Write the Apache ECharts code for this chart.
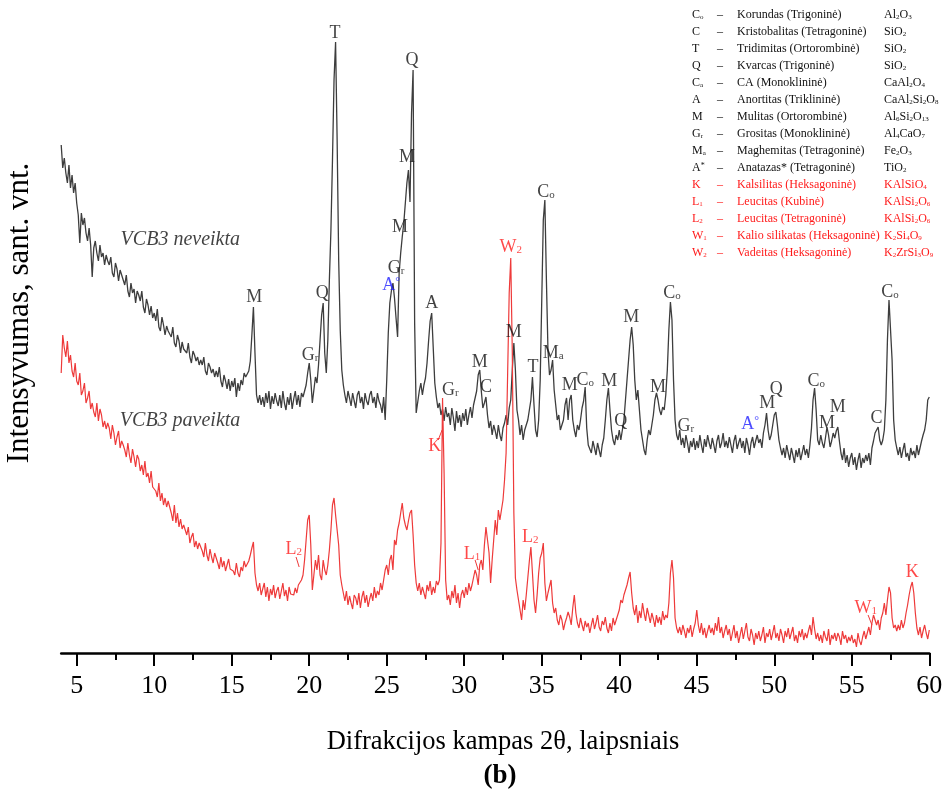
<!DOCTYPE html>
<html><head><meta charset="utf-8">
<script src="https://cdn.jsdelivr.net/npm/echarts@6/dist/echarts.min.js"></script>
<style>html,body{margin:0;padding:0;background:#fff}#c{width:949px;height:792px}</style>
</head><body><div id="c"></div>
<script>
// 2θ grid of both patterns: 4.0 ... 60.0 deg, step 0.1
const START = 4, STEP = 0.1;
// Intensity (arb. units) of VCB3 neveikta (black)
const neveikta = [
508,485,495,480,470,488,465,478,460,470,
450,438,410,440,428,435,420,412,425,408,
376,405,412,400,392,408,396,400,388,398,
392,388,396,380,376,390,384,372,383,378,
376,368,378,362,356,370,360,364,350,362,
358,352,362,346,340,354,348,338,347,335,
340,332,344,326,322,336,328,318,327,322,
322,316,326,310,306,318,312,300,311,304,
306,300,310,296,290,302,298,292,296,288,
293,288,296,282,278,290,286,280,284,276,
282,276,286,272,266,278,272,264,274,262,
272,266,275,256,270,262,273,268,280,276,
276,282,292,318,346,300,258,250,258,248,
256,246,260,250,262,244,257,249,260,252,
247,258,245,262,250,243,256,248,260,244,
254,262,248,258,246,260,256,262,268,280,
290,273,250,263,276,270,288,313,338,350,
300,280,313,373,423,493,573,611,513,393,
323,283,268,258,250,262,255,247,260,252,
245,258,262,250,256,244,260,252,248,258,
262,250,256,245,260,252,248,240,256,233,
273,320,350,362,370,355,335,316,380,400,
416,430,450,470,483,451,540,583,330,240,
240,262,270,258,268,275,290,312,332,340,
305,270,256,245,250,238,244,232,246,236,
240,228,245,235,222,242,230,238,226,240,
232,244,228,238,246,235,248,250,262,278,
283,262,245,250,256,238,225,232,218,228,
222,214,228,218,212,225,230,238,228,245,
253,283,310,283,243,233,218,228,213,223,
228,233,243,253,276,248,223,216,233,273,
353,433,453,373,303,278,283,293,263,248,
233,238,223,228,233,248,255,233,253,258,
233,223,216,228,223,233,245,252,266,225,
208,210,200,212,205,198,210,203,196,208,
215,233,253,265,243,223,213,208,218,213,
223,213,223,233,253,273,293,313,326,308,
273,253,263,243,223,213,203,198,213,223,
218,228,238,253,260,253,243,238,246,243,
258,283,323,351,333,273,233,218,213,223,
208,215,205,218,210,200,212,206,215,203,
212,205,218,208,200,214,206,218,210,204,
215,208,200,212,218,205,210,220,206,212,
205,216,208,200,212,218,204,210,215,205,
212,200,215,208,198,210,216,205,212,218,
210,214,205,220,228,240,223,213,218,228,
238,241,228,213,205,198,205,195,208,200,
193,205,198,190,203,196,205,193,200,208,
198,204,195,208,225,253,265,243,213,208,
218,210,205,215,226,218,206,212,220,215,
222,226,212,200,193,205,190,198,186,195,
200,188,196,183,193,200,185,195,190,198,
192,200,188,205,212,220,223,226,213,208,
213,223,253,313,353,355,293,233,213,205,
198,206,195,203,210,196,200,192,205,198,
202,195,208,198,205,212,218,223,233,253,
256];
// Intensity (arb. units) of VCB3 paveikta (red)
const paveikta = [
280,318,305,296,312,290,298,282,276,290,
272,268,280,258,262,270,250,255,262,244,
250,241,236,250,232,244,238,226,232,224,
230,225,214,228,220,208,216,222,205,212,
208,203,196,210,198,190,204,196,186,198,
194,182,188,178,192,176,180,170,182,166,
168,162,156,170,152,160,148,155,146,152,
146,140,132,148,130,140,126,134,124,128,
123,118,126,110,116,120,106,112,104,110,
108,102,96,110,98,92,104,96,90,100,
95,90,84,96,86,92,82,88,94,84,
86,82,78,90,80,76,86,82,92,86,
88,92,98,105,111,80,68,62,70,58,
60,70,56,66,52,64,58,68,55,62,
66,54,62,70,57,63,52,66,59,61,
58,65,60,68,66,73,78,93,113,133,
138,108,63,78,93,83,98,78,73,93,
83,78,88,103,123,148,155,138,140,108,
78,68,60,52,62,48,57,50,44,58,
55,48,60,45,56,62,50,58,46,54,
60,52,66,55,62,58,70,63,73,83,
88,78,93,98,83,113,108,123,130,140,
150,135,128,123,132,140,143,118,88,70,
62,70,58,66,60,54,68,62,72,58,
66,60,72,68,73,110,255,180,73,53,
58,48,62,55,68,50,60,45,58,63,
55,66,58,70,62,68,68,83,78,68,
88,93,83,108,126,113,100,70,93,113,
133,118,143,133,143,153,173,200,280,360,
395,300,140,75,63,53,43,33,53,43,
58,75,92,106,80,53,40,58,80,95,
100,110,70,52,60,58,73,50,40,45,
33,28,38,33,23,30,35,41,36,28,
45,58,40,30,25,35,28,22,32,26,
30,20,28,35,24,30,38,26,22,32,
28,36,25,20,30,22,35,28,30,38,
43,53,50,58,63,68,75,81,60,45,
38,48,30,42,35,50,40,32,45,38,
30,40,34,26,38,30,36,28,42,33,
38,35,50,80,93,75,35,25,20,26,
18,28,22,15,25,20,28,16,24,30,
43,28,20,30,18,25,15,22,28,20,
25,18,30,22,36,20,26,15,22,28,
18,24,12,20,28,15,22,10,18,26,
14,22,30,16,12,24,18,8,20,14,
22,12,18,26,10,20,16,24,13,20,
28,15,20,12,24,18,10,22,16,25,
14,20,26,12,18,10,22,16,24,13,
20,15,22,28,18,36,24,14,20,12,
18,10,22,16,12,24,8,18,14,20,
12,20,16,8,22,14,18,10,16,12,
18,10,14,6,20,12,8,16,22,14,
20,26,18,30,38,40,28,33,23,35,
40,50,38,53,66,60,35,25,28,22,
28,23,33,25,30,40,48,58,66,71,
60,40,25,18,26,15,22,28,20,14,
23];
const majorTicks = [5,10,15,20,25,30,35,40,45,50,55,60];
const minorTicks = [7.5,12.5,17.5,22.5,27.5,32.5,37.5,42.5,47.5,52.5,57.5];
// phase annotations on the black pattern: [2θ, intensity, label]
const blackPeakLabels = [
 [16.45,356,'M'],[20.06,298,'{m|G}{s|r}'],[20.84,360,'Q'],[21.67,620,'T'],
 [25.28,368,'{b|A}{bs|°}'],[25.6,385,'{m|G}{s|r}'],[25.86,426,'M'],[26.3,496,'M'],[26.63,593,'Q'],
 [27.9,350,'A'],[29.1,263,'{m|G}{s|r}'],[31.0,291,'M'],[31.4,266,'C'],[33.2,321,'M'],
 [34.44,286,'T'],[35.27,461,'{m|C}{s|o}'],[35.74,300,'{m|M}{s|a}'],[36.8,268,'M'],[37.8,273,'{m|C}{s|o}'],
 [39.35,272,'M'],[40.1,232,'Q'],[40.77,336,'M'],[42.5,266,'M'],[43.4,360,'{m|C}{s|o}'],
 [44.3,227,'{m|G}{s|r}'],[48.45,229,'{b|A}{bs|°}'],[49.55,250,'M'],[50.13,264,'Q'],
 [52.7,272,'{m|C}{s|o}'],[53.4,230,'M'],[54.1,246,'M'],[56.6,235,'C'],[57.47,361,'{m|C}{s|o}']
];
// phase annotations on the red pattern
const redPeakLabels = [
 [28.1,207,'K'],[33.0,406,'{m|W}{s|2}'],[19.0,104,'{m|L}{s|2}'],[30.5,99,'{m|L}{s|1}'],
 [34.25,116,'{m|L}{s|2}'],[55.9,45,'{m|W}{s|1}'],[58.9,81,'K']
];
const redLeaders = [
 [[28.32,213],[28.57,223]],[[19.15,96],[19.35,86]],[[30.7,93],[30.9,83]],[[56.05,38],[56.3,28]]
];
const seriesNames = ['VCB3 neveikta','VCB3 paveikta'];
const seriesNamePos = [[7.8,413],[7.75,232]];
const legendCodes = ['{n|C}{s|o}','{n|C}','{n|T}','{n|Q}','{n|C}{s|a}','{n|A}','{n|M}','{n|G}{s|r}','{n|M}{s|a}','{n|A}{sp|*}','{n|K}','{n|L}{s|1}','{n|L}{s|2}','{n|W}{s|1}','{n|W}{s|2}'];
const legendNames = ['Korundas (Trigoninė)','Kristobalitas (Tetragoninė)','Tridimitas (Ortorombinė)','Kvarcas (Trigoninė)','CA (Monoklininė)','Anortitas (Triklininė)','Mulitas (Ortorombinė)','Grositas (Monoklininė)','Maghemitas (Tetragoninė)','Anatazas* (Tetragoninė)','Kalsilitas (Heksagoninė)','Leucitas (Kubinė)','Leucitas (Tetragoninė)','Kalio silikatas (Heksagoninė)','Vadeitas (Heksagoninė)'];
const legendFormulas = ['Al{s|2}O{s|3}','SiO{s|2}','SiO{s|2}','SiO{s|2}','CaAl{s|2}O{s|4}','CaAl{s|2}Si{s|2}O{s|8}','Al{s|6}Si{s|2}O{s|13}','Al{s|4}CaO{s|7}','Fe{s|2}O{s|3}','TiO{s|2}','KAlSiO{s|4}','KAlSi{s|2}O{s|6}','KAlSi{s|2}O{s|6}','K{s|2}Si{s|4}O{s|9}','K{s|2}ZrSi{s|3}O{s|9}'];
const redLegendFrom = 10;

const SERIF = 'Liberation Serif';
const BLACK_LINE = '#3d3d3d', RED = '#ee3a3a', BLUE = '#1f1fff';
const toXY = arr => arr.map((v, i) => [Math.round((START + i * STEP) * 10) / 10, v]);

function peakRich(color) {
  return {
    m: {fontSize: 18, fontFamily: SERIF, color: color},
    s: {fontSize: 11, fontFamily: SERIF, color: color, verticalAlign: 'bottom', padding: [5, 0, 0, 0]},
    b: {fontSize: 18, fontFamily: SERIF, color: BLUE},
    bs: {fontSize: 12, fontFamily: SERIF, color: BLUE, verticalAlign: 'top'}
  };
}
function labelSeries(list, color) {
  return {
    type: 'scatter', silent: true, z: 10, symbolSize: 1,
    itemStyle: {color: 'rgba(0,0,0,0)'},
    data: list.map(d => ({value: [d[0], d[1]], t: d[2]})),
    label: {show: true, position: 'inside', formatter: p => p.data.t, color: color,
      fontSize: 18, fontFamily: SERIF, rich: peakRich(color)},
    animation: false
  };
}

const graphic = [];
const legRich = {
  n: {fontSize: 12, fontFamily: SERIF},
  s: {fontSize: 7, fontFamily: SERIF, verticalAlign: 'bottom'},
  sp: {fontSize: 8, fontFamily: SERIF, verticalAlign: 'top'}
};
function richFill(c) {
  const r = {};
  for (const k in legRich) r[k] = Object.assign({}, legRich[k], {fill: c, color: c});
  return r;
}
legendNames.forEach((name, i) => {
  const c = i >= redLegendFrom ? '#ff1a1a' : '#111';
  const y = 15 + 17 * i;
  graphic.push({type: 'text', x: 692, y: y, style: {text: legendCodes[i], fill: c, fontSize: 12, fontFamily: SERIF, verticalAlign: 'middle', rich: richFill(c)}});
  graphic.push({type: 'text', x: 717, y: y, style: {text: '–', fill: c, fontSize: 12, fontFamily: SERIF, verticalAlign: 'middle'}});
  graphic.push({type: 'text', x: 737, y: y, style: {text: name, fill: c, fontSize: 12, fontFamily: SERIF, verticalAlign: 'middle'}});
  graphic.push({type: 'text', x: 884, y: y, style: {text: legendFormulas[i], fill: c, fontSize: 12, fontFamily: SERIF, verticalAlign: 'middle', rich: richFill(c)}});
});
graphic.push({type: 'text', x: 503, y: 742, style: {text: 'Difrakcijos kampas 2θ, laipsniais', fill: '#000', fontSize: 26.5, fontFamily: SERIF, align: 'center', verticalAlign: 'middle'}});
graphic.push({type: 'text', x: 500, y: 776, style: {text: '(b)', fill: '#000', fontSize: 27, fontWeight: 'bold', fontFamily: SERIF, align: 'center', verticalAlign: 'middle'}});
graphic.push({type: 'text', x: 20, y: 313, rotation: Math.PI / 2, style: {text: 'Intensyvumas, sant. vnt.', fill: '#000', fontSize: 31, fontFamily: SERIF, align: 'center', verticalAlign: 'middle'}});

const chart = echarts.init(document.getElementById('c'));
chart.setOption({
  animation: false,
  backgroundColor: '#fff',
  grid: {left: 61.2, right: 19.7, top: 20, bottom: 139, containLabel: false, outerBoundsMode: 'none'},
  xAxis: [
    {type: 'value', min: 4, max: 60,
     axisLine: {show: true, onZero: false, lineStyle: {color: '#000', width: 2.5}},
     axisTick: {show: true, customValues: majorTicks, length: 13, lineStyle: {color: '#000', width: 2}},
     axisLabel: {show: true, customValues: majorTicks, fontSize: 26, fontFamily: SERIF, color: '#000', margin: 20},
     splitLine: {show: false}},
    {type: 'value', min: 4, max: 60, position: 'bottom', offset: 0,
     axisLine: {show: false},
     axisTick: {show: true, customValues: minorTicks, length: 7, lineStyle: {color: '#000', width: 2}},
     axisLabel: {show: false}, splitLine: {show: false}}
  ],
  yAxis: {type: 'value', min: 0, max: 633, show: false},
  graphic: graphic,
  series: [
    {type: 'line', name: seriesNames[0], data: toXY(neveikta), showSymbol: false, symbol: 'none',
     lineStyle: {color: BLACK_LINE, width: 1.3}, z: 2},
    {type: 'line', name: seriesNames[1], data: toXY(paveikta), showSymbol: false, symbol: 'none',
     lineStyle: {color: RED, width: 1.2}, z: 3,
     markLine: {silent: true, symbol: 'none', animation: false, label: {show: false},
       lineStyle: {color: RED, width: 1, type: 'solid'},
       data: redLeaders.map(l => [{coord: l[0]}, {coord: l[1]}])}},
    labelSeries(blackPeakLabels, '#111'),
    labelSeries(redPeakLabels, '#ff1a1a'),
    {type: 'scatter', silent: true, z: 10, symbolSize: 1, itemStyle: {color: 'rgba(0,0,0,0)'},
     data: seriesNamePos.map((p, i) => ({value: p, t: seriesNames[i]})),
     label: {show: true, position: 'right', distance: 0, formatter: p => p.data.t,
       fontSize: 20, fontStyle: 'italic', fontFamily: SERIF, color: '#111'}}
  ]
});
</script></body></html>
